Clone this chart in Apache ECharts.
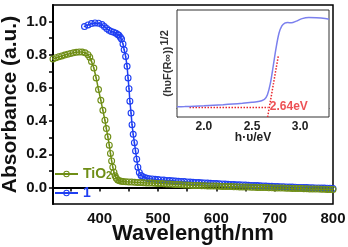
<!DOCTYPE html>
<html>
<head>
<meta charset="utf-8">
<script src="https://cdn.jsdelivr.net/npm/echarts@6/dist/echarts.min.js"></script>
<style>
html,body{margin:0;padding:0;background:#fff;}
#chart{width:348px;height:247px;}
</style>
</head>
<body>
<div id="chart"></div>
<script>
// ---- Main plot data (Absorbance vs wavelength) ----
const wavelengthTiO2 = [320,325,330,335,340,345,350,355,360,365,370,375,380,383,386,390,394,398,402,405.5,409,411.5,414,416.5,418.5,420.5,422.5,424.5,426.5,428.5,431,434,437,440,445,450,455,460,465,470,475,480,485,490,495,500,505,510,515,520,525,530,535,540,545,550,555,560,565,570,575,580,585,590,595,600,605,610,615,620,625,630,635,640,645,650,655,660,665,670,675,680,685,690,695,700,705,710,715,720,725,730,735,740,745,750,755,760,765,770,775,780,785,790,795,800];
const absTiO2 = [0.775,0.782,0.788,0.793,0.798,0.803,0.808,0.812,0.815,0.817,0.816,0.812,0.800,0.785,0.760,0.720,0.660,0.590,0.525,0.465,0.405,0.355,0.305,0.255,0.205,0.160,0.122,0.092,0.070,0.055,0.045,0.040,0.037,0.035,0.034,0.033,0.032,0.031,0.030,0.029,0.028,0.027,0.026,0.026,0.025,0.024,0.023,0.022,0.021,0.020,0.019,0.018,0.017,0.016,0.015,0.014,0.013,0.012,0.012,0.011,0.010,0.010,0.009,0.009,0.008,0.008,0.007,0.006,0.006,0.005,0.005,0.004,0.004,0.003,0.003,0.002,0.002,0.001,0.001,0.000,0.000,-0.001,-0.001,-0.002,-0.002,-0.003,-0.003,-0.004,-0.004,-0.005,-0.005,-0.006,-0.006,-0.007,-0.007,-0.008,-0.008,-0.009,-0.009,-0.010,-0.010,-0.011,-0.011,-0.012,-0.012,-0.013];

const wavelength1 = [374,380,386,392,398,404,408,412,416,420,424,428,431,433,435.5,437.5,440,442,444.5,447,448.7,450.3,451.8,453.8,455.5,457.5,459.5,461.5,463.5,465.5,468,471,474,478,481,485,490,495,500,505,510,515,520,525,530,535,540,545,550,555,560,565,570,575,580,585,590,595,600,605,610,615,620,625,630,635,640,645,650,655,660,665,670,675,680,685,690,695,700,705,710,715,720,725,730,735,740,745,750,755,760,765,770,775,780,785,790,795,800];
const abs1 = [0.970,0.980,0.988,0.992,0.990,0.982,0.970,0.958,0.947,0.940,0.936,0.930,0.922,0.918,0.905,0.895,0.865,0.830,0.790,0.730,0.660,0.595,0.520,0.448,0.378,0.320,0.270,0.220,0.170,0.122,0.090,0.072,0.064,0.059,0.056,0.053,0.051,0.049,0.047,0.045,0.044,0.042,0.041,0.040,0.038,0.037,0.036,0.035,0.033,0.032,0.031,0.030,0.029,0.028,0.027,0.026,0.025,0.024,0.023,0.022,0.021,0.020,0.019,0.018,0.017,0.016,0.016,0.015,0.014,0.013,0.012,0.011,0.011,0.010,0.009,0.008,0.007,0.007,0.006,0.005,0.004,0.004,0.003,0.002,0.002,0.001,0.000,0.000,-0.001,-0.001,-0.002,-0.002,-0.003,-0.003,-0.004,-0.004,-0.005,-0.005,-0.006];

const seriesNames = ['TiO2', '1'];
const xTickValues = [350,400,450,500,550,600,650,700,750,800];
const xLabelValues = [400,500,600,700,800];
const yTickValues = [0,0.1,0.2,0.3,0.4,0.5,0.6,0.7,0.8,0.9,1.0];
const yLabelValues = [0,0.2,0.4,0.6,0.8,1.0];

// ---- Inset data (Tauc plot) ----
const insetEnergy = [1.72,1.8,1.9,2.0,2.1,2.2,2.3,2.4,2.5,2.55,2.6,2.63,2.66,2.69,2.72,2.75,2.78,2.81,2.84,2.87,2.91,2.96,3.02,3.09,3.17,3.26,3.30];
const insetSignal = [0.09,0.10,0.12,0.14,0.17,0.20,0.24,0.28,0.33,0.36,0.42,0.50,0.75,1.35,2.30,3.30,4.10,4.50,4.65,4.69,4.67,4.76,4.90,4.96,4.95,4.91,4.87];
const baselineEnergy = [1.85, 2.67];
const baselineSignal = [0.05, 0.05];
const tangentEnergy = [2.662, 2.775];
const tangentSignal = [-0.47, 2.92];
const gapValue = 2.64;
const gapLabelPos = [2.685, 0.08];
const insetXTicks = [1.75,2.0,2.25,2.5,2.75,3.0,3.25];
const insetXLabels = [2.0,2.5,3.0];
const insetYTicks = [0,1,2,3,4,5];

const GREEN = '#6f8e16';
const BLUE = '#1f3ff2';
const INSET = '#7b80ee';
const RED = '#e8252b';
const FONT = '"Liberation Sans", Arial, sans-serif';
const RING = 'path://M10,0A10,10,0,1,1,10,20A10,10,0,1,1,10,0ZM10,3.2A6.8,6.8,0,1,0,10,16.8A6.8,6.8,0,1,0,10,3.2ZM10,7.8A2.2,2.2,0,1,1,10,12.2A2.2,2.2,0,1,1,10,7.8Z';

const zip = (a, b) => a.map((v, i) => [v, b[i]]);

const chart = echarts.init(document.getElementById('chart'), null, {renderer: 'canvas'});
chart.setOption({
  animation: false,
  backgroundColor: '#fff',
  textStyle: {fontFamily: FONT},
  grid: [
    {left: 53, top: 5, right: 15, bottom: 43, containLabel: false, outerBoundsMode: 'none', show: true, borderColor: '#000', borderWidth: 1.5, backgroundColor: 'transparent'},
    {left: 177, top: 10, right: 19, bottom: 130, containLabel: false, outerBoundsMode: 'none', show: true, borderColor: '#333', borderWidth: 1, backgroundColor: '#fff', z: 5}
  ],
  legend: {
    orient: 'vertical', left: 49, top: 162, itemWidth: 23, itemHeight: 8, itemGap: 5,
    data: seriesNames,
    textStyle: {fontFamily: FONT, fontSize: 14, fontWeight: 'bold',
      rich: {
        t: {fontSize: 14, fontWeight: 'bold', color: GREEN, fontFamily: FONT, lineHeight: 14},
        s: {fontSize: 10, fontWeight: 'bold', color: GREEN, fontFamily: FONT, lineHeight: 14, verticalAlign: 'bottom', padding: [0,0,0,0]},
        b: {fontSize: 14, fontWeight: 'bold', color: BLUE, fontFamily: FONT, lineHeight: 14}
      }
    },
    formatter: n => n === 'TiO2' ? '{t|TiO}{s|2}' : '{b|' + n + '}'
  },
  xAxis: [
    {
      type: 'value', gridIndex: 0, min: 320, max: 800,
      name: 'Wavelength/nm', nameLocation: 'middle', nameGap: 19, nameMoveOverlap: false,
      nameTextStyle: {fontSize: 22, fontWeight: 'bold', color: '#111', fontFamily: FONT},
      axisLine: {lineStyle: {color: '#000', width: 2}},
      axisTick: {show: true, length: 4, lineStyle: {color: '#000', width: 1.5}, customValues: xTickValues},
      axisLabel: {fontSize: 15, fontWeight: 'bold', color: '#111', margin: 7, customValues: xLabelValues, fontFamily: FONT},
      splitLine: {show: false}
    },
    {
      type: 'value', gridIndex: 1, min: 1.72, max: 3.30,
      name: 'h·υ/eV', nameLocation: 'middle', nameGap: 15, nameMoveOverlap: false,
      nameTextStyle: {fontSize: 12, fontWeight: 'bold', color: '#222', fontFamily: FONT},
      axisLine: {lineStyle: {color: '#333', width: 1}},
      axisTick: {show: true, inside: true, length: 3, lineStyle: {color: '#333'}, customValues: insetXTicks},
      axisLabel: {fontSize: 12, fontWeight: 'bold', color: '#222', margin: 4, customValues: insetXLabels, formatter: v => v.toFixed(1), fontFamily: FONT},
      splitLine: {show: false}
    }
  ],
  yAxis: [
    {
      type: 'value', gridIndex: 0, min: -0.1, max: 1.1,
      name: 'Absorbance (a.u.)', nameLocation: 'middle', nameGap: 32, nameMoveOverlap: false,
      nameTextStyle: {fontSize: 21, fontWeight: 'bold', color: '#111', fontFamily: FONT},
      axisLine: {show: true, lineStyle: {color: '#000', width: 2}},
      axisTick: {show: true, length: 4, lineStyle: {color: '#000', width: 1.5}, customValues: yTickValues},
      axisLabel: {fontSize: 15, fontWeight: 'bold', color: '#111', margin: 6, customValues: yLabelValues, formatter: v => v.toFixed(1), fontFamily: FONT},
      splitLine: {show: false}
    },
    {
      type: 'value', gridIndex: 1, min: -0.47, max: 5.37,
      name: '{a|(hυF(R∞))}{s|1/2}', nameLocation: 'middle', nameGap: 1, nameMoveOverlap: false,
      nameTextStyle: {fontSize: 11, fontWeight: 'bold', color: '#333', fontFamily: FONT,
        rich: {
          a: {fontSize: 11, fontWeight: 'bold', color: '#333', fontFamily: FONT},
          s: {fontSize: 11, fontWeight: 'bold', color: '#333', fontFamily: FONT, padding: [0,0,6,1]}
        }
      },
      axisLine: {show: true, lineStyle: {color: '#333', width: 1}},
      axisTick: {show: true, inside: true, length: 3, lineStyle: {color: '#333'}, customValues: insetYTicks},
      axisLabel: {show: false},
      splitLine: {show: false}
    }
  ],
  series: [
    {
      name: 'TiO2', type: 'line', xAxisIndex: 0, yAxisIndex: 0, z: 4,
      data: zip(wavelengthTiO2, absTiO2),
      symbol: RING, symbolSize: 7, showAllSymbol: true,
      itemStyle: {color: GREEN},
      lineStyle: {color: GREEN, width: 1.5}
    },
    {
      name: '1', type: 'line', xAxisIndex: 0, yAxisIndex: 0, z: 3,
      data: zip(wavelength1, abs1),
      symbol: RING, symbolSize: 7, showAllSymbol: true,
      itemStyle: {color: BLUE},
      lineStyle: {color: BLUE, width: 1.5}
    },
    {
      name: 'inset', type: 'line', xAxisIndex: 1, yAxisIndex: 1, z: 8,
      data: zip(insetEnergy, insetSignal), showSymbol: false, smooth: 0.3,
      lineStyle: {color: INSET, width: 1.5}
    },
    {
      name: 'baseline', type: 'line', xAxisIndex: 1, yAxisIndex: 1, z: 7,
      data: zip(baselineEnergy, baselineSignal), showSymbol: false,
      lineStyle: {color: RED, width: 1.5, type: [1.5, 1.5]}
    },
    {
      name: 'tangent', type: 'line', xAxisIndex: 1, yAxisIndex: 1, z: 7,
      data: zip(tangentEnergy, tangentSignal), showSymbol: false,
      lineStyle: {color: RED, width: 1.5, type: [1.5, 1.5]}
    },
    {
      name: 'gap', type: 'scatter', xAxisIndex: 1, yAxisIndex: 1, z: 9,
      data: [gapLabelPos], symbolSize: 0,
      label: {show: true, position: 'right', distance: 0, formatter: () => gapValue.toFixed(2) + 'eV',
        fontSize: 12, fontWeight: 'bold', color: RED, fontFamily: FONT}
    }
  ]
});
</script>
</body>
</html>
